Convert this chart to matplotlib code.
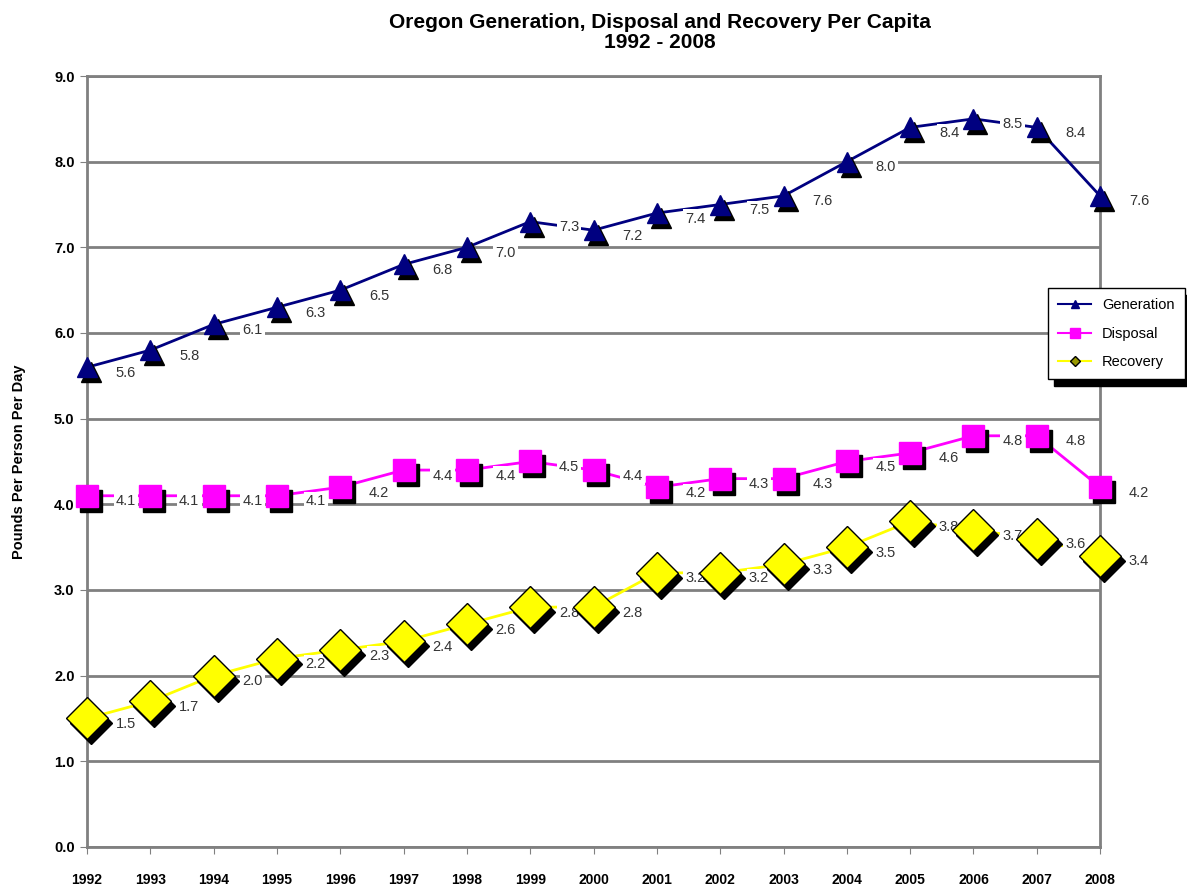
import numpy as np
import matplotlib.pyplot as plt
from matplotlib.transforms import offset_copy

plt.rcParams['font.family'] = ['Liberation Sans', 'DejaVu Sans']

years = list(range(1992, 2009))
generation = [5.6, 5.8, 6.1, 6.3, 6.5, 6.8, 7.0, 7.3, 7.2, 7.4, 7.5, 7.6, 8.0, 8.4, 8.5, 8.4, 7.6]
disposal = [4.1, 4.1, 4.1, 4.1, 4.2, 4.4, 4.4, 4.5, 4.4, 4.2, 4.3, 4.3, 4.5, 4.6, 4.8, 4.8, 4.2]
recovery = [1.5, 1.7, 2.0, 2.2, 2.3, 2.4, 2.6, 2.8, 2.8, 3.2, 3.2, 3.3, 3.5, 3.8, 3.7, 3.6, 3.4]

fig = plt.figure(figsize=(11.87, 8.88), dpi=100)
ax = fig.add_axes([0.0733, 0.0462, 0.8535, 0.8682])

# shadow offset for markers
shadow = offset_copy(ax.transData, fig=fig, x=4, y=-5, units='dots')

series = [
    ("Generation", generation, '#000080', '^', 15),
    ("Disposal", disposal, '#ff00ff', 's', 16),
    ("Recovery", recovery, '#ffff00', 'D', 21),
]

for name, vals, col, mk, ms in series:
    ax.plot(years, vals, color=col, lw=2, zorder=3)
    ax.plot(years, vals, ls='none', marker=mk, ms=ms, color='black',
            transform=shadow, zorder=4, clip_on=False)
    ax.plot(years, vals, ls='none', marker=mk, ms=ms, color=col,
            markeredgecolor='black' if mk == 'D' else col, markeredgewidth=1,
            zorder=5, clip_on=False)
    for x, v in zip(years, vals):
        ax.annotate(f"{v:.1f}", (x, v), xytext=(28, -4), textcoords='offset points',
                    ha='center', va='center', fontsize=10.5, color='#333333',
                    bbox=dict(boxstyle='square,pad=0.15', fc='white', ec='none'),
                    zorder=3.5, annotation_clip=False)

# legend proxies
h_gen, = ax.plot([], [], color='#000080', marker='^', ms=6, lw=1.5)
h_dis, = ax.plot([], [], color='#ff00ff', marker='s', ms=7, lw=1.5)
h_rec, = ax.plot([], [], color='#ffff00', marker='D', ms=5, lw=1.5,
                 markeredgecolor='black', markerfacecolor='#999900')
leg = fig.legend([h_gen, h_dis, h_rec], ["Generation", "Disposal", "Recovery"],
                 loc='upper left', bbox_to_anchor=(0.877, 0.684), fontsize=10.5,
                 frameon=True, fancybox=False,
                 shadow={'color': 'black', 'alpha': 1, 'ox': 4, 'oy': -5},
                 handlelength=2.2, labelspacing=1.0, borderpad=0.7)
leg.get_frame().set_edgecolor('black')
leg.get_frame().set_linewidth(1)

ax.set_xlim(1992, 2008)
ax.set_ylim(0, 9)
ax.set_xticks(years)
ax.set_xticklabels([str(y) for y in years], fontsize=10, fontweight='bold')
ax.set_yticks(np.arange(0, 9.1, 1))
ax.set_yticklabels([f"{t:.1f}" for t in np.arange(0, 9.1, 1)], fontsize=10.5, fontweight='bold')
ax.tick_params(axis='x', length=5, color='#808080', pad=14)
ax.tick_params(axis='y', length=5, color='#808080', pad=4)
ax.grid(axis='y', color='#808080', lw=2)
ax.set_axisbelow(True)
for s in ax.spines.values():
    s.set_color('#808080')
    s.set_linewidth(2)
ax.set_ylabel("Pounds Per Person Per Day", fontsize=10.5, fontweight='bold', labelpad=20)

fig.suptitle("Oregon Generation, Disposal and Recovery Per Capita\n1992 - 2008",
             x=0.556, y=0.985, fontsize=15, fontweight='bold', linespacing=1.05)

fig.savefig("out.png", dpi=100)
